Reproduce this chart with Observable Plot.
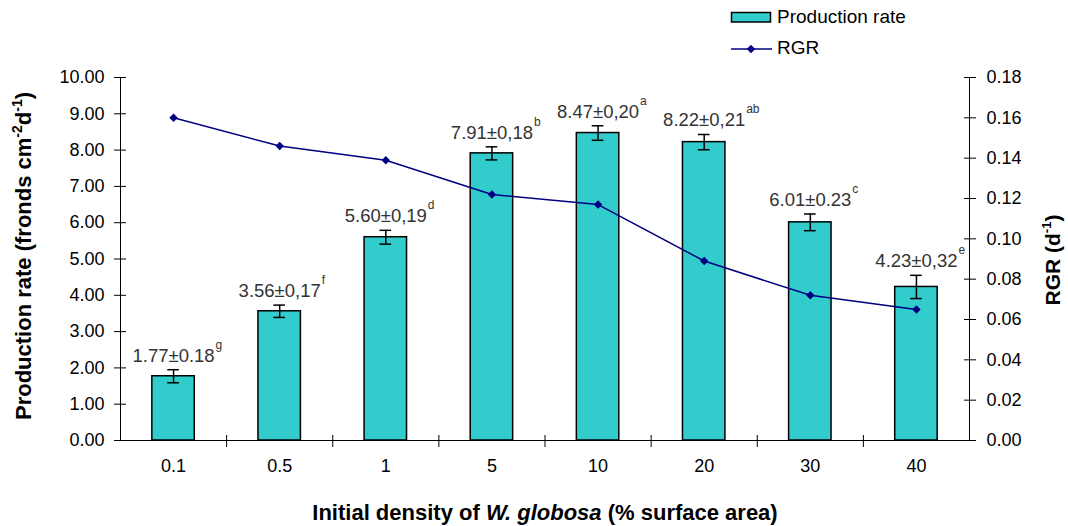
<!DOCTYPE html>
<html><head><meta charset="utf-8">
<script src="https://cdn.jsdelivr.net/npm/d3@7"></script>
<script src="https://cdn.jsdelivr.net/npm/@observablehq/plot@0.6"></script>
<style>
body{margin:0;background:#fff;font-family:"Liberation Sans",Arial,sans-serif;}
#wrap{position:relative;width:1068px;height:526px;overflow:hidden;}
#legend{position:absolute;left:730px;top:0;}
#chart{position:absolute;left:0;top:0;}
</style></head><body>
<div id="wrap"><div id="chart"></div><div id="legend"></div></div>
<script>
const categories = ["0.1", "0.5", "1", "5", "10", "20", "30", "40"];
const production = [1.77, 3.56, 5.60, 7.91, 8.47, 8.22, 6.01, 4.23];
const productionSE = [0.18, 0.17, 0.19, 0.18, 0.20, 0.21, 0.23, 0.32];
const productionText = ["1.77±0.18", "3.56±0,17", "5.60±0,19", "7.91±0,18", "8.47±0,20", "8.22±0,21", "6.01±0.23", "4.23±0,32"];
const letters = ["g", "f", "d", "b", "a", "ab", "c", "e"];
const rgr = [0.160, 0.146, 0.139, 0.122, 0.117, 0.089, 0.072, 0.065];
const leftTicks = [0, 1, 2, 3, 4, 5, 6, 7, 8, 9, 10];
const rightTicks = [0, 0.02, 0.04, 0.06, 0.08, 0.10, 0.12, 0.14, 0.16, 0.18];
const prodMax = 10, rgrMax = 0.18;
const k = prodMax / rgrMax;

const data = categories.map((c, i) => ({i, c, prod: production[i], se: productionSE[i], label: productionText[i], letter: letters[i], rgr: rgr[i]}));
const cx = d => d.i + 0.5;
const font = '"Liberation Sans", Arial, sans-serif';

const chart = Plot.plot({
  width: 1068, height: 526,
  marginTop: 77, marginBottom: 86, marginLeft: 120, marginRight: 99,
  style: {fontFamily: font, fontSize: "18px", color: "#000", background: "#fff"},
  x: {type: "linear", domain: [0, categories.length]},
  y: {domain: [0, prodMax]},
  marks: [
    Plot.rectY(data, {x1: d => d.i + 0.3, x2: d => d.i + 0.7, y1: 0, y2: "prod", fill: "#33CCCC", stroke: "#000", strokeWidth: 1.5}),
    Plot.ruleX(data, {x: cx, y1: d => d.prod - d.se, y2: d => d.prod + d.se, stroke: "#000", strokeWidth: 1.5}),
    Plot.ruleY(data, {y: d => d.prod + d.se, x1: d => d.i + 0.445, x2: d => d.i + 0.555, stroke: "#000", strokeWidth: 1.5}),
    Plot.ruleY(data, {y: d => d.prod - d.se, x1: d => d.i + 0.445, x2: d => d.i + 0.555, stroke: "#000", strokeWidth: 1.5}),
    Plot.ruleY([0], {stroke: "#000"}),
    Plot.ruleX([0, categories.length], {stroke: "#000"}),
    Plot.axisY(leftTicks, {anchor: "left", tickSize: 12, dx: 6, tickPadding: 10, tickFormat: d => d.toFixed(2), fontSize: 18, label: null}),
    Plot.axisY(rightTicks.map(v => v * k), {anchor: "right", tickSize: 12, dx: -6, tickPadding: 11, tickFormat: d => (d / k).toFixed(2), fontSize: 18, label: null}),
    Plot.axisX(d3.range(1, categories.length), {anchor: "bottom", tickSize: 12, dy: -5, tickFormat: () => "", label: null}),
    Plot.axisX(data.map(cx), {anchor: "bottom", tickSize: 0, tickPadding: 19, tickFormat: d => categories[Math.round(d - 0.5)], fontSize: 18, label: null}),
    Plot.line(data, {x: cx, y: d => d.rgr * k, stroke: "#000080", strokeWidth: 1.5}),
    Plot.dot(data, {x: cx, y: d => d.rgr * k, symbol: "diamond2", r: 3.8, fill: "#000080", stroke: "none"}),
    Plot.text(data, {x: cx, y: d => d.prod + d.se, text: "label", dy: -8, lineAnchor: "bottom", fontSize: 18.5, fill: "#333"}),
    Plot.text(data, {x: cx, y: d => d.prod + d.se, text: "letter", dx: 42, dy: -21, textAnchor: "start", lineAnchor: "bottom", fontSize: 12, fill: "#333"})
  ]
});
document.getElementById("chart").appendChild(chart);

// axis titles with superscripts
const svg = d3.select(chart);
const lt = svg.append("text").attr("transform", "translate(31,256) rotate(-90)")
  .attr("text-anchor", "middle").attr("font-family", font).attr("font-size", 22).attr("font-weight", "bold").attr("fill", "#000");
lt.append("tspan").text("Production rate (fronds cm");
lt.append("tspan").attr("dy", -9).attr("font-size", 14).text("-2");
lt.append("tspan").attr("dy", 9).text("d");
lt.append("tspan").attr("dy", -9).attr("font-size", 14).text("-1");
lt.append("tspan").attr("dy", 9).text(")");

const rt = svg.append("text").attr("transform", "translate(1060,260) rotate(-90)")
  .attr("text-anchor", "middle").attr("font-family", font).attr("font-size", 21).attr("font-weight", "bold").attr("fill", "#000");
rt.append("tspan").text("RGR (d");
rt.append("tspan").attr("dy", -9).attr("font-size", 13).text("-1");
rt.append("tspan").attr("dy", 9).text(")");

const xt = svg.append("text").attr("x", 545).attr("y", 520)
  .attr("text-anchor", "middle").attr("font-family", font).attr("font-size", 22).attr("font-weight", "bold").attr("fill", "#000");
xt.append("tspan").text("Initial density of ");
xt.append("tspan").attr("font-style", "italic").text("W. globosa");
xt.append("tspan").text(" (% surface area)");

// legend
const lg = d3.select("#legend").append("svg").attr("width", 220).attr("height", 64)
  .attr("font-family", font);
lg.append("rect").attr("x", 1.5).attr("y", 12.5).attr("width", 39).attr("height", 9.5)
  .attr("fill", "#33CCCC").attr("stroke", "#000").attr("stroke-width", 1.5);
lg.append("text").attr("x", 47).attr("y", 23).attr("font-size", 19).attr("fill", "#000").text("Production rate");
lg.append("line").attr("x1", 1).attr("x2", 42).attr("y1", 49).attr("y2", 49).attr("stroke", "#000080").attr("stroke-width", 1.5);
lg.append("path").attr("transform", "translate(21,49)").attr("d", d3.symbol(d3.symbolDiamond2, 3.8 * 3.8 * Math.PI)()).attr("fill", "#000080");
lg.append("text").attr("x", 47).attr("y", 54).attr("font-size", 19).attr("fill", "#000").text("RGR");
</script>
</body></html>
